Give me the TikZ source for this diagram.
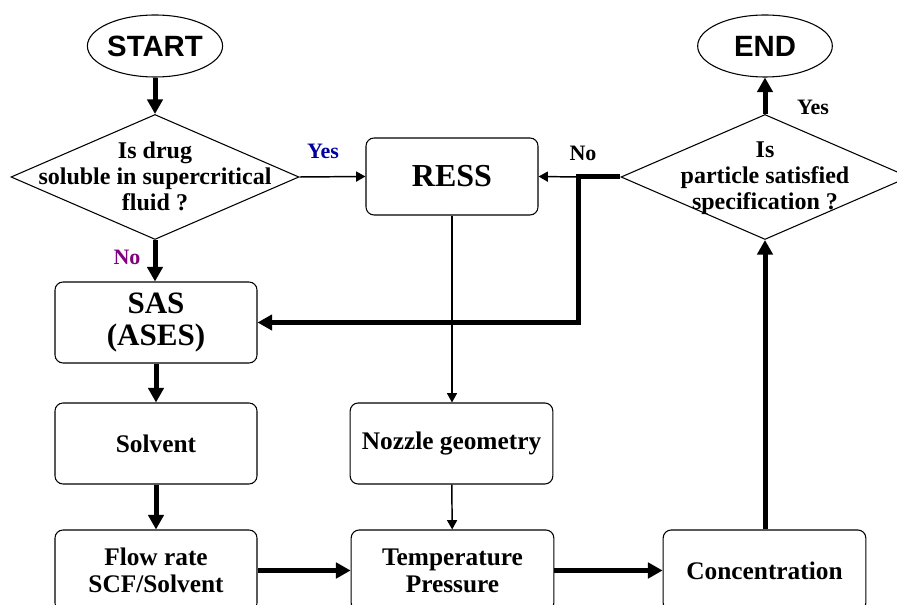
\documentclass[tikz,border=0pt]{standalone}
\usepackage{fontspec}
\setmainfont{Liberation Serif}
\newfontfamily\headfont{Liberation Sans}
\usetikzlibrary{shapes.geometric,arrows.meta}
\definecolor{yesblue}{RGB}{0,0,160}
\definecolor{nopurple}{RGB}{128,0,128}
\begin{document}
\begin{tikzpicture}[x=0.75pt,y=-0.75pt,
  termin/.style={ellipse, draw, line width=0.8pt, inner sep=0pt, minimum width=101pt, minimum height=46.5pt, font=\headfont\bfseries\fontsize{22}{25}\selectfont},
  procbox/.style={rectangle, rounded corners=6pt, draw, line width=0.8pt, inner sep=0pt, minimum width=151.5pt, minimum height=60.75pt, align=center, font=\bfseries\fontsize{19}{20.3}\selectfont},
  decide/.style={diamond, draw, line width=0.8pt, inner sep=0pt, minimum width=216pt, minimum height=93.75pt},
  asktext/.style={align=center, inner sep=0pt, font=\bfseries\fontsize{18}{19.5}\selectfont},
  answer/.style={inner sep=0pt, font=\bfseries\fontsize{16.5}{18}\selectfont},
  thickarrow/.style={line width=3.75pt, -{Triangle[width=11.5pt,length=11pt]}},
  thinarrow/.style={line width=1.1pt, -{Triangle[width=7.5pt,length=7pt]}}]
\useasboundingbox (0,0) rectangle (897,605);
\clip (0,0) rectangle (897,605);
\node[termin] (start) at (155,46) {START};
\node[termin] (finish) at (765,46) {END};
\node[decide] (drug) at (155,177) {};
\node[asktext] (drugtxt) at (155,176) {Is drug\\soluble in supercritical\\fluid ?};
\node[procbox, minimum width=129pt, minimum height=57.75pt, font=\bfseries\fontsize{24}{26}\selectfont] (ress) at (452,176.5) {RESS};
\node[procbox, font=\bfseries\fontsize{23.3}{24}\selectfont] (sas) at (156,322.5) {SAS\\(ASES)};
\node[procbox] (solvent) at (156,443.5) {Solvent};
\node[procbox] (flow) at (156,570.5) {Flow rate\\SCF/Solvent};
\node[procbox, minimum width=152pt] (nozzle) at (451.5,443.5) {Nozzle geometry};
\node[procbox, minimum width=152pt] (temp) at (452.5,570.5) {Temperature\\Pressure};
\node[procbox, minimum width=152pt] (conc) at (764.5,570.5) {Concentration};
\node[decide] (check) at (765,177) {};
\node[asktext] (checktxt) at (765,178) {Is\\particle satisfied\\specification ?};
\coordinate (split) at (578,177);
\node[answer, yesblue] (yes1) at (323,151) {Yes};
\node[answer, nopurple] (no1) at (127,257) {No};
\node[answer] (no2) at (583,153) {No};
\node[answer] (yes2) at (813,107) {Yes};
\draw[thickarrow] (start) -- (drug);
\draw[thinarrow] (drug.east) -- (ress.west);
\draw[thickarrow] (drug.south) -- (drug.south |- sas.north);
\draw[thickarrow] (sas) -- (solvent);
\draw[thickarrow] (solvent) -- (flow);
\draw[thinarrow] (ress.south) -- (ress.south |- nozzle.north);
\draw[thinarrow] (nozzle) -- (temp);
\draw[thickarrow] (flow) -- (temp);
\draw[thickarrow] (temp) -- (conc);
\draw[thickarrow] (check.south |- conc.north) -- (check.south);
\draw[thickarrow] (check.north) -- (finish.south);
\draw[thickarrow] (check.west) -- (split) |- (sas.east);
\draw[thinarrow] (split) -- (ress.east);
\end{tikzpicture}
\end{document}
